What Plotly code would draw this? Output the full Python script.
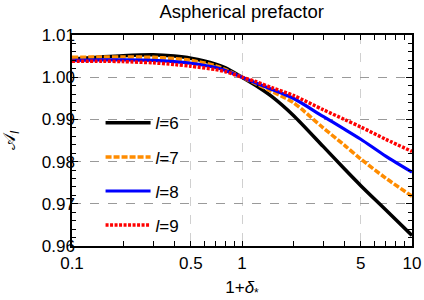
import plotly.graph_objects as go

x = [0.1, 0.15, 0.2, 0.3, 0.4, 0.5, 0.7, 0.8, 1.0, 1.2, 1.5, 2.0, 3.0, 4.0, 5.0, 7.0, 10.0]
l6 = [1.0043, 1.0048, 1.0051, 1.0053, 1.0050, 1.0045, 1.0031, 1.0022, 1.0000, 0.9981, 0.9954, 0.9910, 0.9836, 0.9783, 0.9743, 0.9686, 0.9625]
l7 = [1.0047, 1.0048, 1.0048, 1.0047, 1.0044, 1.0040, 1.0027, 1.0018, 1.0000, 0.9985, 0.9966, 0.9940, 0.9880, 0.9839, 0.9806, 0.9761, 0.9718]
l8 = [1.0040, 1.0041, 1.0041, 1.0040, 1.0037, 1.0033, 1.0023, 1.0016, 1.0000, 0.9987, 0.9971, 0.9950, 0.9907, 0.9877, 0.9853, 0.9813, 0.9775]
l9 = [1.0038, 1.0038, 1.0037, 1.0034, 1.0030, 1.0026, 1.0018, 1.0013, 1.0000, 0.9990, 0.9975, 0.9957, 0.9923, 0.9900, 0.9882, 0.9853, 0.9824]
series_names = ["<i>l</i>=6", "<i>l</i>=7", "<i>l</i>=8", "<i>l</i>=9"]

x_major = [0.1, 0.5, 1, 5, 10]
x_major_labels = ["0.1", "0.5", "1", "5", "10"]
x_minor = [0.2, 0.3, 0.4, 0.6, 0.7, 0.8, 0.9, 2, 3, 4, 6, 7, 8, 9]

FONT = "Liberation Sans, Arial, sans-serif"

styles = [
    dict(color="black", width=3.5, dash="solid"),
    dict(color="#FF8C00", width=3.5, dash="6px,2px"),
    dict(color="#0000FF", width=3.2, dash="solid"),
    dict(color="#FF0000", width=3.5, dash="3px,1.5px"),
]

fig = go.Figure()
for i, (ys, name) in enumerate(zip([l6, l7, l8, l9], series_names)):
    fig.add_trace(go.Scatter(
        x=x, y=ys, mode="lines", name=name, legendgroup=str(i),
        line=dict(shape="spline", smoothing=0.8, **styles[i]),
    ))

fig.update_layout(
    width=424, height=300,
    margin=dict(l=72, r=12, t=35, b=54, autoexpand=False),
    paper_bgcolor="white", plot_bgcolor="white",
    font=dict(family=FONT, size=17, color="black"),
    title=dict(text="Aspherical prefactor", x=0.570, xanchor="center",
               y=0.963, yanchor="middle", font=dict(size=18.5)),
    showlegend=True,
    legend=dict(x=0.084, y=0.667, xanchor="left", yanchor="top",
                bgcolor="rgba(0,0,0,0)", font=dict(size=17),
                tracegroupgap=9, itemwidth=45),
)

fig.update_xaxes(
    type="log", range=[-1, 1],
    tickmode="array", tickvals=x_major, ticktext=x_major_labels,
    ticks="inside", ticklen=5, tickwidth=1.2, tickcolor="black",
    showline=True, linecolor="black", linewidth=1.5, mirror="ticks",
    showgrid=True, gridcolor="#d0d0d0", griddash="dash", gridwidth=1,
    zeroline=False, ticklabelstandoff=1, automargin=False,
    minor=dict(tickvals=x_minor, ticks="inside", ticklen=5, tickwidth=1.2,
               tickcolor="black", showgrid=False),
    title=dict(text="1+<i>δ</i><sub>*</sub>", standoff=12, font=dict(size=17)),
    tickfont=dict(size=17),
)

fig.update_yaxes(
    range=[0.96, 1.01],
    tickmode="linear", tick0=0.96, dtick=0.01, tickformat=".2f",
    ticks="inside", ticklen=6, tickwidth=1.2, tickcolor="black",
    showline=True, linecolor="black", linewidth=1.5, mirror="ticks",
    showgrid=True, gridcolor="#9a9a9a", griddash="dash", gridwidth=1,
    zeroline=False, ticklabelstandoff=-8, automargin=False,
    minor=dict(dtick=0.002, ticks="inside", ticklen=4, tickwidth=1.2,
               tickcolor="black", showgrid=False),
    title=dict(text="𝒜<sub><i>l</i></sub>", standoff=22, font=dict(size=17)),
    tickfont=dict(size=17),
)

fig.write_html("out.html", config={"displayModeBar": False},
               post_script="document.body.style.margin='0';")
